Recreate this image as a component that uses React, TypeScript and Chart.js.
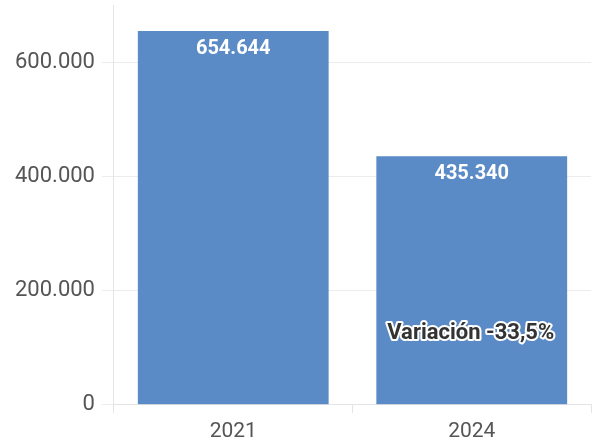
import React, { useEffect, useRef } from "react";
import { Chart, registerables } from "chart.js";

Chart.register(...registerables);

const categories = ["2021", "2024"];
const values = [654644, 435340];
const yTicks = [0, 200000, 400000, 600000];
const yMax = 700000;
const variationLabel = "Variación -33,5%";

const fmt = (v: number) => Math.round(v).toLocaleString("de-DE");

const labelPlugin = {
  id: "barLabels",
  afterDatasetsDraw(chart: any) {
    const ctx = chart.ctx;
    const meta = chart.getDatasetMeta(0);
    ctx.save();
    ctx.textAlign = "center";
    ctx.textBaseline = "middle";
    meta.data.forEach((bar: any, i: number) => {
      ctx.font = "bold 20px Roboto";
      ctx.fillStyle = "#ffffff";
      ctx.fillText(fmt(values[i]), bar.x, bar.y + 18);
    });
    const last = meta.data[meta.data.length - 1];
    ctx.font = "bold 22px Roboto";
    ctx.lineJoin = "round";
    ctx.lineWidth = 4;
    ctx.strokeStyle = "#ffffff";
    ctx.strokeText(variationLabel, last.x - 1, last.base - 71);
    ctx.fillStyle = "#333333";
    ctx.fillText(variationLabel, last.x - 1, last.base - 71);
    ctx.restore();
  },
};

export default function App() {
  const ref = useRef<HTMLCanvasElement | null>(null);
  useEffect(() => {
    document.body.style.margin = "0";
    if (!ref.current) return;
    const chart = new Chart(ref.current, {
      type: "bar",
      data: {
        labels: categories,
        datasets: [
          {
            data: values,
            backgroundColor: "#5b8bc6",
            categoryPercentage: 1,
            barPercentage: 0.8,
          },
        ],
      },
      options: {
        animation: false,
        responsive: false,
        layout: { padding: { top: 5, right: 4, left: 8, bottom: -5 } },
        plugins: { legend: { display: false }, tooltip: { enabled: false } },
        scales: {
          x: {
            grid: {
              drawOnChartArea: false,
              drawTicks: true,
              tickLength: 8,
              color: "#e4e4e4",
            },
            border: { display: true, color: "#e4e4e4" },
            ticks: {
              color: "#555555",
              font: { family: "Roboto", size: 21 },
              padding: 6,
            },
          },
          y: {
            min: 0,
            max: yMax,
            afterBuildTicks: (axis: any) => {
              axis.ticks = yTicks.map((v) => ({ value: v }));
            },
            afterFit: (axis: any) => {
              axis.paddingTop = 0;
              axis.paddingBottom = 0;
            },
            grid: {
              color: "#ececec",
              tickLength: 12,
            },
            border: { display: true, color: "#e4e4e4" },
            ticks: {
              color: "#555555",
              font: { family: "Roboto", size: 22 },
              padding: 7,
              callback: (v: any) => fmt(Number(v)),
            },
          },
        },
      },
      plugins: [labelPlugin],
    });
    return () => chart.destroy();
  }, []);
  return (
    <div style={{ width: 595, height: 445 }}>
      <canvas ref={ref} width={595} height={445} />
    </div>
  );
}
